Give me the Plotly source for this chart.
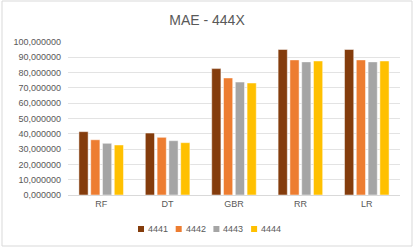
import plotly.graph_objects as go

categories = ["RF", "DT", "GBR", "RR", "LR"]
series_names = ["4441", "4442", "4443", "4444"]
s4441 = [41.4, 40.5, 82.6, 95.1, 95.1]
s4442 = [36.1, 37.7, 76.5, 88.3, 88.3]
s4443 = [33.8, 35.5, 73.8, 87.0, 87.0]
s4444 = [32.7, 34.2, 73.2, 87.6, 87.6]
colors = ["#843C0C", "#ED7D31", "#A5A5A5", "#FFC000"]
y_ticks = [0, 10, 20, 30, 40, 50, 60, 70, 80, 90, 100]

fig = go.Figure()
for name, vals, c in zip(series_names, [s4441, s4442, s4443, s4444], colors):
    fig.add_trace(go.Bar(x=categories, y=vals, name=name, marker_color=c, showlegend=False,
                         marker_line=dict(color="rgba(255,255,255,0.6)", width=0.8)))

W, H = 415, 249
L, R, T, B = 68, 15, 42, 54
pw = W - L - R
ph = H - T - B

def px_x(x):
    return (x - L) / pw

def px_y(y):
    return (H - B - y) / ph

FONT = "Liberation Sans, Arial, sans-serif"
TXT = "#595959"

shapes = [dict(type="rect", xref="paper", yref="paper",
               x0=px_x(2), x1=px_x(412), y0=px_y(246), y1=px_y(1),
               line=dict(color="#D9D9D9", width=1), fillcolor="rgba(0,0,0,0)", layer="below")]
annotations = []
# manual compact legend (Excel style)
leg_x0, leg_pitch, leg_y = 138, 37.7, 229
for i, (name, c) in enumerate(zip(series_names, colors)):
    x = leg_x0 + i * leg_pitch
    shapes.append(dict(type="rect", xref="paper", yref="paper",
                       x0=px_x(x), x1=px_x(x + 6), y0=px_y(leg_y + 3), y1=px_y(leg_y - 3),
                       line=dict(width=0), fillcolor=c))
    annotations.append(dict(text=name, xref="paper", yref="paper", x=px_x(x + 8), y=px_y(leg_y),
                            xanchor="left", yanchor="middle", showarrow=False,
                            font=dict(size=9, color=TXT, family=FONT)))

fig.update_layout(
    width=W, height=H,
    margin=dict(l=L, r=R, t=T, b=B, autoexpand=False),
    paper_bgcolor="white", plot_bgcolor="white",
    separators=",.",
    barmode="group", bargap=0.29, bargroupgap=0.22,
    showlegend=False,
    hovermode=False,
    font=dict(family=FONT, color=TXT, size=9),
    title=dict(text="MAE - 444X", x=px_x(207), xref="paper", xanchor="center",
               y=1 - 20 / H, yanchor="middle",
               font=dict(size=14, color=TXT)),
    xaxis=dict(showgrid=False, showline=True, linecolor="#D9D9D9", linewidth=1,
               ticks="", tickfont=dict(size=9, color=TXT), automargin=False),
    yaxis=dict(range=[0, 100], tickvals=y_ticks, tickformat=".6f",
               showgrid=True, gridcolor="#E3E3E3", gridwidth=1, zeroline=False,
               ticks="", tickfont=dict(size=9, color=TXT), ticklabelstandoff=6,
               automargin=False),
    shapes=shapes,
    annotations=annotations,
)

fig.write_html("out.html", config={"displayModeBar": False, "staticPlot": True},
               post_script="document.body.style.margin='0';document.body.style.overflow='hidden';")
